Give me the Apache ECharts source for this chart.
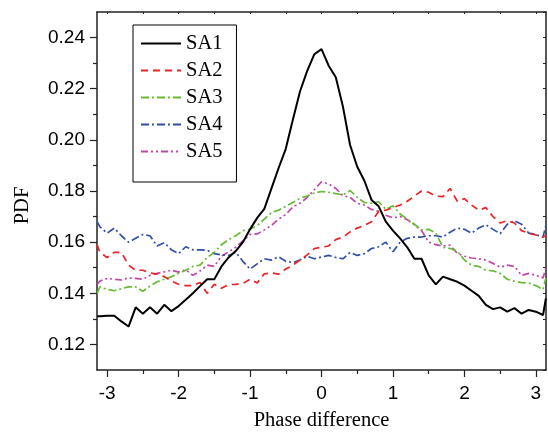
<!DOCTYPE html>
<html><head><meta charset="utf-8">
<script src="https://cdn.jsdelivr.net/npm/echarts@6/dist/echarts.min.js"></script>
<style>html,body{margin:0;padding:0;background:#fff}#c{width:548px;height:436px}</style>
</head><body><div id="c"></div>
<script>
var xs = [-3.14,-3.1,-3.0,-2.9,-2.8,-2.7,-2.6,-2.5,-2.4,-2.3,-2.2,-2.1,-2.0,-1.9,-1.8,-1.7,-1.6,-1.5,-1.4,-1.3,-1.2,-1.1,-1.0,-0.9,-0.8,-0.7,-0.6,-0.5,-0.4,-0.3,-0.2,-0.1,
          0.0,0.1,0.2,0.3,0.4,0.5,0.6,0.7,0.8,0.9,1.0,1.1,1.2,1.3,1.4,1.5,1.6,1.7,1.8,1.9,2.0,2.1,2.2,2.3,2.4,2.5,2.6,2.7,2.8,2.9,3.0,3.1,3.14];
var sa1 = [0.131,0.131,0.1312,0.1312,0.129,0.127,0.1345,0.132,0.1345,0.132,0.1355,0.133,0.135,0.1375,0.140,0.1428,0.1455,0.1455,0.1505,0.154,0.1565,0.160,0.165,0.1695,0.173,0.181,0.189,0.1965,0.208,0.219,0.227,0.2335,
           0.2355,0.229,0.2245,0.213,0.198,0.1895,0.184,0.1765,0.174,0.168,0.1645,0.1615,0.158,0.1535,0.1535,0.147,0.1435,0.1465,0.1455,0.1445,0.143,0.141,0.139,0.1355,0.1338,0.1345,0.1328,0.1342,0.132,0.1335,0.1328,0.1315,0.138];
var sa2 = [0.159,0.156,0.154,0.156,0.156,0.151,0.149,0.149,0.148,0.1475,0.1465,0.1448,0.1435,0.143,0.143,0.1442,0.140,0.1435,0.142,0.1434,0.1435,0.1438,0.1455,0.144,0.1476,0.148,0.1475,0.1495,0.151,0.153,0.155,0.1575,
           0.158,0.1585,0.161,0.162,0.164,0.1655,0.1665,0.168,0.172,0.1725,0.1735,0.1745,0.176,0.178,0.180,0.1795,0.178,0.1778,0.181,0.176,0.177,0.1745,0.1725,0.1735,0.170,0.1675,0.1684,0.1675,0.1645,0.1635,0.1628,0.162,0.1625];
var sa3 = [0.140,0.1425,0.1415,0.141,0.1418,0.1425,0.1425,0.1408,0.1428,0.1445,0.1455,0.1465,0.1478,0.149,0.1505,0.151,0.154,0.156,0.159,0.161,0.1625,0.1645,0.165,0.1665,0.169,0.1716,0.1725,0.174,0.1755,0.1772,0.178,0.1792,
           0.1798,0.1795,0.179,0.1785,0.1802,0.1775,0.1755,0.1752,0.1758,0.1728,0.1742,0.171,0.169,0.167,0.1648,0.165,0.1635,0.158,0.1575,0.1565,0.153,0.151,0.1505,0.149,0.1488,0.1478,0.1455,0.1447,0.1442,0.144,0.143,0.1415,0.146];
var sa4 = [0.168,0.166,0.1635,0.1655,0.1625,0.160,0.1615,0.163,0.1625,0.1585,0.1598,0.157,0.1555,0.1582,0.157,0.157,0.1568,0.1555,0.155,0.1548,0.156,0.1525,0.1495,0.1515,0.1535,0.153,0.1543,0.1525,0.152,0.153,0.1545,0.1535,
           0.1542,0.1548,0.154,0.1535,0.156,0.1548,0.1555,0.1575,0.1582,0.160,0.1562,0.160,0.1615,0.162,0.162,0.1625,0.1625,0.162,0.1639,0.1655,0.165,0.1635,0.1655,0.1668,0.165,0.1633,0.167,0.1684,0.167,0.1635,0.163,0.162,0.1665];
var sa5 = [0.1435,0.1448,0.1458,0.1455,0.1452,0.146,0.1458,0.1455,0.147,0.1478,0.1484,0.149,0.1483,0.1492,0.147,0.1487,0.151,0.1505,0.1545,0.1562,0.158,0.1605,0.163,0.1632,0.1648,0.1665,0.169,0.1708,0.1738,0.1752,0.1775,0.1805,
           0.1836,0.1828,0.181,0.1782,0.1775,0.1752,0.1745,0.1728,0.172,0.1705,0.1695,0.170,0.1688,0.1668,0.1645,0.160,0.159,0.1585,0.1588,0.1556,0.1545,0.1538,0.1535,0.153,0.1517,0.1502,0.151,0.1505,0.147,0.1478,0.147,0.146,0.150];
var names = ['SA1','SA2','SA3','SA4','SA5'];
var xMajor = [-3,-2,-1,0,1,2,3];
var xMinor = [-2.5,-1.5,-0.5,0.5,1.5,2.5];
var yMajor = [0.12,0.14,0.16,0.18,0.20,0.22,0.24];
var yMinor = [0.13,0.15,0.17,0.19,0.21,0.23];
var yAll = [0.11,0.12,0.13,0.14,0.15,0.16,0.17,0.18,0.19,0.20,0.21,0.22,0.23,0.24,0.25];

var XMIN = -Math.PI, XMAX = Math.PI, YMIN = 0.11, YMAX = 0.25;
var axisCol = '#222';
var serif = '"Liberation Serif", "Times New Roman", serif';
var sans = '"Liberation Sans", Arial, sans-serif';

function pairs(arr){ return xs.map(function(x,i){ return [x, arr[i]]; }); }

var styles = [
  {color:'#000000', type:'solid', width:2},
  {color:'#ee2222', type:[7,5], width:1.7},
  {color:'#66bb33', type:[8,3,2,3], width:1.7},
  {color:'#2f4fa8', type:[8,3,2,3], width:1.7},
  {color:'#c444aa', type:[7,3,2,3,2,3], width:1.7}
];
var dataSets = [sa1, sa2, sa3, sa4, sa5];

var series = dataSets.map(function(d, i){
  return {
    name: names[i], type:'line', data: pairs(d), xAxisIndex:0, yAxisIndex:0,
    showSymbol:false, symbol:'none', smooth:false,
    z: i===0 ? 10 : 5-i,
    lineStyle: {color: styles[i].color, type: styles[i].type, width: styles[i].width},
    itemStyle: {color: styles[i].color},
    emphasis:{disabled:true}
  };
});

var chart = echarts.init(document.getElementById('c'), null, {renderer:'canvas'});
chart.setOption({
  animation:false,
  backgroundColor:'#ffffff',
  grid:{left:97, right:2, top:12, bottom:61, containLabel:false},
  legend:{
    data:names, orient:'vertical', left:133, top:25,
    padding:[8,14,20,7], itemGap:6, itemWidth:40, itemHeight:14,
    borderColor:'#000', borderWidth:1, backgroundColor:'#fff',
    itemStyle:{opacity:0},
    textStyle:{fontFamily:serif, fontSize:20.5, color:'#000', lineHeight:20},
    selectedMode:false
  },
  xAxis:[
    {type:'value', min:XMIN, max:XMAX, position:'bottom',
     name:'Phase difference', nameLocation:'middle', nameGap:40,
     nameTextStyle:{fontFamily:serif, fontSize:20.5, color:'#000'},
     axisLine:{show:true, onZero:false, lineStyle:{color:axisCol, width:1.5}},
     axisTick:{show:true, inside:false, length:7, customValues:xMajor, lineStyle:{color:axisCol, width:1.2}},
     axisLabel:{show:true, customValues:xMajor, margin:14, fontFamily:sans, fontSize:19, color:'#000',
       formatter:function(v){ return String(Math.round(v)); }},
     splitLine:{show:false}},
    {type:'value', min:XMIN, max:XMAX, position:'bottom',
     axisLine:{show:false, onZero:false},
     axisTick:{show:true, inside:false, length:4, customValues:xMinor, lineStyle:{color:axisCol, width:1.2}},
     axisLabel:{show:false}, splitLine:{show:false}},
    {type:'value', min:XMIN, max:XMAX, position:'top',
     axisLine:{show:true, onZero:false, lineStyle:{color:axisCol, width:1.5}},
     axisTick:{show:true, inside:true, length:2, customValues:xMajor.concat(xMinor), lineStyle:{color:axisCol, width:1}},
     axisLabel:{show:false}, splitLine:{show:false}}
  ],
  yAxis:[
    {type:'value', min:YMIN, max:YMAX, position:'left',
     name:'PDF', nameLocation:'middle', nameGap:64,
     nameTextStyle:{fontFamily:serif, fontSize:20.5, color:'#000', padding:[0,29,0,0]},
     axisLine:{show:true, onZero:false, lineStyle:{color:axisCol, width:1.5}},
     axisTick:{show:true, inside:false, length:7, customValues:yMajor, lineStyle:{color:axisCol, width:1.2}},
     axisLabel:{show:true, customValues:yMajor, margin:12, fontFamily:sans, fontSize:19, color:'#000',
       formatter:function(v){ return v.toFixed(2); }},
     splitLine:{show:false}},
    {type:'value', min:YMIN, max:YMAX, position:'left',
     axisLine:{show:false, onZero:false},
     axisTick:{show:true, inside:false, length:4, customValues:yMinor, lineStyle:{color:axisCol, width:1.2}},
     axisLabel:{show:false}, splitLine:{show:false}},
    {type:'value', min:YMIN, max:YMAX, position:'right',
     axisLine:{show:true, onZero:false, lineStyle:{color:axisCol, width:1.5}},
     axisTick:{show:true, inside:true, length:3, customValues:yAll, lineStyle:{color:axisCol, width:1}},
     axisLabel:{show:false}, splitLine:{show:false}}
  ],
  series: series
});
</script>
</body></html>
